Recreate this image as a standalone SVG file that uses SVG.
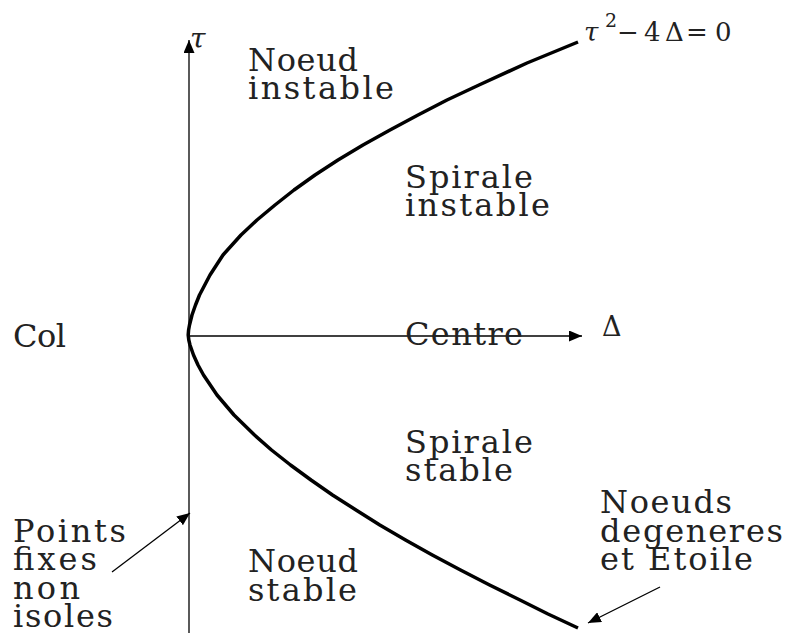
<svg xmlns="http://www.w3.org/2000/svg" width="786" height="633" viewBox="0 0 786 633">
<style>
.t{font-family:"DejaVu Serif","Liberation Serif",serif;font-size:32px;fill:#222}
.m{font-family:"DejaVu Serif","Liberation Serif",serif;fill:#222}
.ax{stroke:#000;stroke-width:1.3;fill:none}
.cv{stroke:#000;stroke-width:3.5;fill:none;stroke-linejoin:round;stroke-linecap:butt}
</style>
<defs>
<marker id="ah" markerUnits="userSpaceOnUse" markerWidth="13" markerHeight="11" refX="13" refY="5.5" orient="auto">
<path d="M0,0 L13,5.5 L0,11 z" fill="#000"/>
</marker>
</defs>
<g id="connectors">
<line class="ax" x1="189" y1="633" x2="189" y2="40" marker-end="url(#ah)"/>
<line class="ax" x1="189" y1="336" x2="582" y2="336" marker-end="url(#ah)"/>
<polyline class="cv" points="578,42 527,63 479,85 447,100 418,115 390,130 363,145 338,160 315,175 294,190 275,205 257,220 241,235 223,255 210,275 199.5,295 195.5,305 192,315 189.5,325 188.6,330 188.2,335 188.8,340 190,345 193.5,355 198,365 203.5,375 217,395 234,415 254.5,435 271.5,450 290.5,465 311,480 332.5,495 356,510 379.8,525 405.5,540 432.3,555 460.5,570 489.6,585 520,600 548,614 578,628"/>
<line class="ax" x1="112" y1="572" x2="190" y2="513" marker-end="url(#ah)"/>
<line class="ax" x1="660" y1="587" x2="588" y2="623" marker-end="url(#ah)"/>
</g>
<g id="tau-label"><text class="m" x="190" y="48" font-size="28" font-style="italic">τ</text></g>
<g id="delta-label"><text class="m" x="602" y="336" font-size="27">Δ</text></g>
<g id="equation"><text class="m" y="41" font-size="26"><tspan x="584" font-style="italic">τ</tspan><tspan x="605" y="27" font-size="19">2</tspan><tspan x="617" y="41">−</tspan><tspan x="644">4</tspan><tspan x="665">Δ</tspan><tspan x="686">=</tspan><tspan x="715">0</tspan></text></g>
<g id="noeud-instable"><text class="t" x="248" y="71" textLength="110" lengthAdjust="spacing">Noeud</text><text class="t" x="248" y="99" textLength="146" lengthAdjust="spacing">instable</text></g>
<g id="spirale-instable"><text class="t" x="405" y="188" textLength="128" lengthAdjust="spacing">Spirale</text><text class="t" x="405" y="216" textLength="145" lengthAdjust="spacing">instable</text></g>
<g id="col"><text class="t" x="13" y="347" textLength="53" lengthAdjust="spacing">Col</text></g>
<g id="centre"><text class="t" x="405" y="345" textLength="118" lengthAdjust="spacing">Centre</text></g>
<g id="spirale-stable"><text class="t" x="405" y="453" textLength="128" lengthAdjust="spacing">Spirale</text><text class="t" x="405" y="481" textLength="108" lengthAdjust="spacing">stable</text></g>
<g id="points-fixes"><text class="t" x="13" y="542" textLength="113" lengthAdjust="spacing">Points</text><text class="t" x="13" y="570" textLength="84" lengthAdjust="spacing">fixes</text><text class="t" x="13" y="599" textLength="67" lengthAdjust="spacing">non</text><text class="t" x="13" y="627" textLength="100" lengthAdjust="spacing">isoles</text></g>
<g id="noeud-stable"><text class="t" x="248" y="572" textLength="110" lengthAdjust="spacing">Noeud</text><text class="t" x="248" y="601" textLength="109" lengthAdjust="spacing">stable</text></g>
<g id="noeuds-degeneres"><text class="t" x="600" y="513" textLength="132" lengthAdjust="spacing">Noeuds</text><text class="t" x="600" y="542" textLength="183" lengthAdjust="spacing">degeneres</text><text class="t" x="600" y="570" textLength="153" lengthAdjust="spacing">et Etoile</text></g>
</svg>
